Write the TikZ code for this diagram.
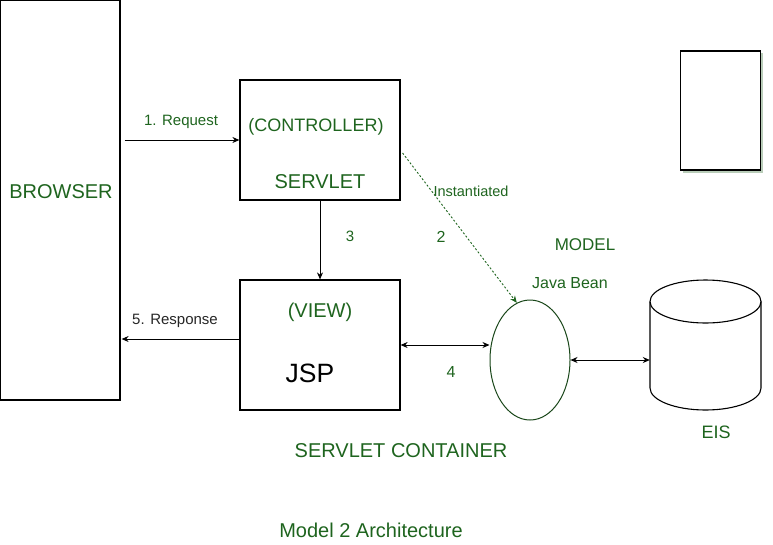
\documentclass[tikz,border=0pt]{standalone}
\usepackage{fontspec}
\setmainfont{Liberation Sans}
\usetikzlibrary{arrows.meta,shapes.geometric,calc}
\definecolor{txtgreen}{RGB}{30,100,30}
\definecolor{shadowgreen}{RGB}{185,205,185}
\definecolor{beangreen}{RGB}{25,70,25}
\tikzset{
  box/.style={draw=black,line width=1.2pt,inner sep=0pt},
  lbl/.style={inner sep=0pt,text=txtgreen},
  conn/.style={line width=0.9pt,-{Stealth[length=7pt,width=6pt]}},
  biconn/.style={line width=0.9pt,{Stealth[length=7pt,width=6pt]}-{Stealth[length=7pt,width=6pt]}},
}
\newcommand{\fsz}[1]{\fontsize{#1}{#1}\selectfont}
\begin{document}
\begin{tikzpicture}[x=1pt,y=-1pt]
\useasboundingbox (0,0) rectangle (773,544);
% boxes
\node[box,minimum width=119.5pt,minimum height=399.5pt] (browser) at (60.25,200.25) {};
\node[box,minimum width=160pt,minimum height=120pt] (servlet) at (320,140) {};
\node[box,minimum width=160pt,minimum height=130pt] (jsp) at (320,345) {};
\fill[shadowgreen] (683,53) rectangle (763,173);
\node[box,fill=white,minimum width=80pt,minimum height=119pt] (page) at (720.5,110.5) {};
\node[ellipse,draw=beangreen,line width=1pt,minimum width=80pt,minimum height=120pt,inner sep=0pt] (bean) at (530,360) {};
% cylinder EIS
\node[inner sep=0pt,minimum width=111pt,minimum height=130pt] (eis) at (705.5,345) {};
\draw[line width=1.1pt] (650,301.5) -- (650,388) arc[start angle=180,end angle=360,x radius=55.5,y radius=-22] -- (761,301.5);
\draw[line width=1.1pt] (705.5,301.5) ellipse[x radius=55.5,y radius=21.5];
% labels
\node[lbl,font=\fsz{20}] (tbrowser) at (61,192) {BROWSER};
\node[lbl,font=\fsz{18}] (tctrl) at (316,127) {(CONTROLLER)};
\node[lbl,font=\fsz{20}] (tservlet) at (320,182) {SERVLET};
\node[lbl,font=\fsz{20}] (tview) at (320,312) {(VIEW)};
\node[inner sep=0pt,font=\fsz{26.5}] (tjsp) at (310,373) {JSP};
\node[lbl,font=\fsz{15}] (treq) at (181,122) {1. Request};
\node[inner sep=0pt,font=\fsz{15},text=black!85] (tresp) at (175,321) {5. Response};
\node[lbl,font=\fsz{15}] (t3) at (350,236) {3};
\node[lbl,font=\fsz{16}] (t2) at (441,237) {2};
\node[lbl,font=\fsz{16}] (t4) at (451,372) {4};
\node[lbl,font=\fsz{14.5}] (tinst) at (471,191) {Instantiated};
\node[lbl,font=\fsz{17}] (tmodel) at (585,245) {MODEL};
\node[lbl,font=\fsz{16}] (tbean) at (570,283) {Java Bean};
\node[lbl,font=\fsz{18}] (teis) at (716,432) {EIS};
\node[lbl,font=\fsz{20}] (tcont) at (401,451) {SERVLET CONTAINER};
\node[lbl,font=\fsz{20}] (tarch) at (371,530) {Model 2 Architecture};
% connectors
\draw[conn] ($(browser.east|-servlet.west)+(4,0)$) -- (servlet.west);
\draw[conn] ($(jsp.west)+(0,-6)$) -- ($(browser.east|-jsp.west)+(1,-6)$);
\draw[conn] (servlet.south) -- (jsp.north);
\draw[biconn] (jsp.east) -- (jsp.east -| bean.west);
\draw[biconn] (bean.east) -- (bean.east -| eis.west);
\draw[line width=0.9pt,txtgreen,dash pattern=on 2pt off 2pt,-{Stealth[length=7pt,width=6pt]}] ($(servlet.east)+(2,13)$) -- (bean.103);
\end{tikzpicture}
\end{document}
